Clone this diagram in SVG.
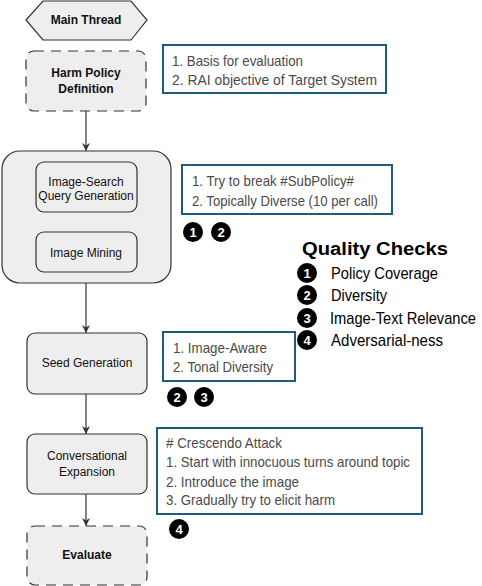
<svg xmlns="http://www.w3.org/2000/svg" width="482" height="586" viewBox="0 0 482 586">
<defs>
<marker id="arr" viewBox="0 0 10 10" refX="10" refY="5" markerWidth="8" markerHeight="8" markerUnits="userSpaceOnUse" orient="auto">
<path d="M0,0 L10,5 L0,10 L3,5 z" fill="#333"/>
</marker>
<style>
.node{fill:#eeeeee;stroke:#333;stroke-width:1.2}
.dash{stroke-dasharray:10 7}
.nt{font-family:"Liberation Sans",Arial,sans-serif;font-size:12px;fill:#111;text-anchor:middle}
.b{font-weight:bold}
.note{fill:#fff;stroke:#1d5c7c;stroke-width:2}
.ntx{font-family:"Liberation Sans",Arial,sans-serif;font-size:15px;fill:#4a4a4a}
.badge{fill:#000}
.bt{font-family:"Liberation Sans",Arial,sans-serif;font-size:13px;font-weight:bold;fill:#fff;text-anchor:middle}
.lg{font-family:"Liberation Sans",Arial,sans-serif;font-size:17px;fill:#000}
.conn{stroke:#333;stroke-width:1.2;fill:none}
</style>
</defs>
<rect width="482" height="586" fill="#fff"/>

<g id="connectors">
<line class="conn" x1="86" y1="111" x2="86" y2="151" marker-end="url(#arr)"/>
<line class="conn" x1="86" y1="283" x2="86" y2="333" marker-end="url(#arr)"/>
<line class="conn" x1="86" y1="394" x2="86" y2="434" marker-end="url(#arr)"/>
<line class="conn" x1="86" y1="494" x2="86" y2="526" marker-end="url(#arr)"/>
</g>

<g id="main-thread">
<polygon class="node" points="26,20 43,1 131,1 147,20 131,40 43,40"/>
<text class="nt b" x="86" y="24">Main Thread</text>
</g>

<g id="harm-policy">
<rect class="node dash" x="26" y="51" width="120" height="60" rx="8"/>
<text class="nt b" x="86" y="77">Harm Policy</text>
<text class="nt b" x="86" y="93">Definition</text>
</g>

<g id="image-stage">
<rect class="node" x="2" y="151" width="169" height="132" rx="18"/>
</g>
<g id="query-gen">
<rect class="node" x="36" y="162" width="101" height="50" rx="8"/>
<text class="nt" x="86" y="186">Image-Search</text>
<text class="nt" x="86" y="200">Query Generation</text>
</g>
<g id="image-mining">
<rect class="node" x="36" y="232" width="101" height="40" rx="8"/>
<text class="nt" x="86" y="257">Image Mining</text>
</g>

<g id="seed-gen">
<rect class="node" x="27" y="333" width="120" height="61" rx="8"/>
<text class="nt" x="87" y="367">Seed Generation</text>
</g>

<g id="conv-exp">
<rect class="node" x="27" y="434" width="120" height="60" rx="8"/>
<text class="nt" x="87" y="460">Conversational</text>
<text class="nt" x="87" y="476">Expansion</text>
</g>

<g id="evaluate">
<rect class="node dash" x="27" y="526" width="120" height="59" rx="8"/>
<text class="nt b" x="87" y="559">Evaluate</text>
</g>

<g id="note-policy">
<rect class="note" x="163" y="45" width="223" height="48"/>
<text class="ntx" x="172" y="66" textLength="131" lengthAdjust="spacingAndGlyphs">1. Basis for evaluation</text>
<text class="ntx" x="172" y="85" textLength="205" lengthAdjust="spacingAndGlyphs">2. RAI objective of Target System</text>
</g>

<g id="note-query">
<rect class="note" x="182" y="165" width="210" height="49"/>
<text class="ntx" x="192" y="186" textLength="162" lengthAdjust="spacingAndGlyphs">1. Try to break #SubPolicy#</text>
<text class="ntx" x="192" y="206" textLength="186" lengthAdjust="spacingAndGlyphs">2. Topically Diverse (10 per call)</text>
</g>
<g id="badges-query">
<circle class="badge" cx="193" cy="232" r="10"/><text class="bt" x="193" y="236.5">1</text>
<circle class="badge" cx="221" cy="232" r="10"/><text class="bt" x="221" y="236.5">2</text>
</g>

<g id="note-seed">
<rect class="note" x="163" y="332" width="132" height="49"/>
<text class="ntx" x="173" y="353" textLength="94" lengthAdjust="spacingAndGlyphs">1. Image-Aware</text>
<text class="ntx" x="173" y="372" textLength="100" lengthAdjust="spacingAndGlyphs">2. Tonal Diversity</text>
</g>
<g id="badges-seed">
<circle class="badge" cx="177" cy="397" r="10"/><text class="bt" x="177" y="401.5">2</text>
<circle class="badge" cx="204" cy="397" r="10"/><text class="bt" x="204" y="401.5">3</text>
</g>

<g id="note-crescendo">
<rect class="note" x="157" y="428" width="265" height="86"/>
<text class="ntx" x="166" y="448" textLength="116" lengthAdjust="spacingAndGlyphs"># Crescendo Attack</text>
<text class="ntx" x="166" y="467" textLength="244" lengthAdjust="spacingAndGlyphs">1. Start with innocuous turns around topic</text>
<text class="ntx" x="166" y="487" textLength="133" lengthAdjust="spacingAndGlyphs">2. Introduce the image</text>
<text class="ntx" x="166" y="505" textLength="169" lengthAdjust="spacingAndGlyphs">3. Gradually try to elicit harm</text>
</g>
<g id="badge-crescendo">
<circle class="badge" cx="179" cy="529" r="10"/><text class="bt" x="179" y="533.5">4</text>
</g>

<g id="legend">
<text x="302" y="255" font-family="Liberation Sans,Arial,sans-serif" font-size="18" font-weight="bold" fill="#000" textLength="146" lengthAdjust="spacingAndGlyphs">Quality Checks</text>
<circle class="badge" cx="307" cy="273" r="10"/><text class="bt" x="307" y="277.5">1</text>
<text class="lg" x="331" y="279" textLength="107" lengthAdjust="spacingAndGlyphs">Policy Coverage</text>
<circle class="badge" cx="307" cy="295" r="10"/><text class="bt" x="307" y="299.5">2</text>
<text class="lg" x="331" y="301" textLength="56" lengthAdjust="spacingAndGlyphs">Diversity</text>
<circle class="badge" cx="307" cy="318" r="10"/><text class="bt" x="307" y="322.5">3</text>
<text class="lg" x="330" y="324" textLength="146" lengthAdjust="spacingAndGlyphs">Image-Text Relevance</text>
<circle class="badge" cx="307" cy="340" r="10"/><text class="bt" x="307" y="344.5">4</text>
<text class="lg" x="331" y="346" textLength="112" lengthAdjust="spacingAndGlyphs">Adversarial-ness</text>
</g>
</svg>
